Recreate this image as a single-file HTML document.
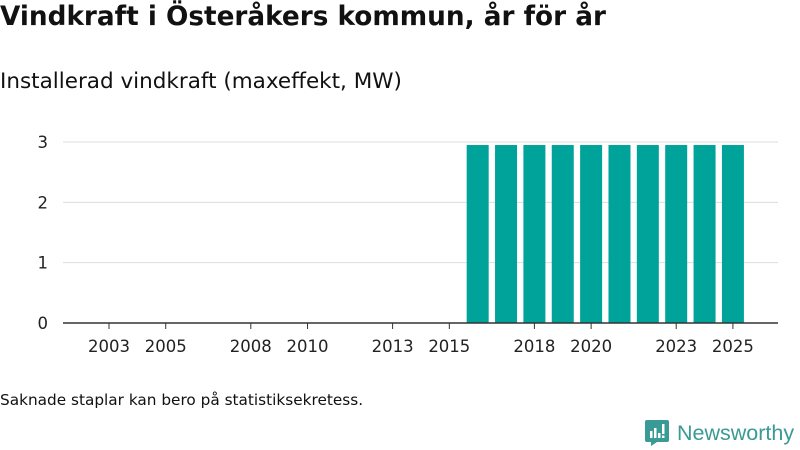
<!DOCTYPE html>
<html><head><meta charset="utf-8"><style>
body{margin:0;width:800px;height:450px;background:#fff;font-family:"DejaVu Sans","Liberation Sans",sans-serif;color:#111;overflow:hidden;position:relative}
.t{position:absolute;left:0;white-space:nowrap}
</style></head><body>
<div class="t" style="top:2px;font-size:26.3px;font-weight:bold">Vindkraft i Österåkers kommun, år för år</div>
<div class="t" style="top:69px;font-size:21.5px">Installerad vindkraft (maxeffekt, MW)</div>
<svg id="c" width="800" height="380" style="position:absolute;left:0;top:0"></svg>
<div class="t" style="top:391px;font-size:15.3px">Saknade staplar kan bero på statistiksekretess.</div>
<div style="position:absolute;left:645px;top:420px;display:flex;align-items:center">
<svg width="24" height="26" viewBox="0 0 24 26"><path d="M2 0h20a2 2 0 0 1 2 2v18a2 2 0 0 1-2 2H12l-6 4v-4H2a2 2 0 0 1-2-2V2a2 2 0 0 1 2-2z" fill="#3a9a95"/><rect x="5" y="11" width="2.5" height="7" fill="#fff"/><rect x="9" y="8" width="2.5" height="10" fill="#fff"/><rect x="13" y="13" width="2.5" height="5" fill="#fff"/><rect x="17" y="4" width="2.5" height="10" fill="#fff"/><rect x="17" y="15.5" width="2.5" height="2.5" fill="#fff"/></svg>
<span style="font-size:21.5px;color:#3a9a95;margin-left:8px;font-family:'Liberation Sans',sans-serif">Newsworthy</span></div>
<script>
const years=[2016,2017,2018,2019,2020,2021,2022,2023,2024,2025];
const values=[2.95,2.95,2.95,2.95,2.95,2.95,2.95,2.95,2.95,2.95];
const yTicks=[0,1,2,3];
const xTicks=[2003,2005,2008,2010,2013,2015,2018,2020,2023,2025];
const svg=document.getElementById('c');const NS='http://www.w3.org/2000/svg';
const x=v=>109+(v-2003)*28.36;const y=v=>323-v*60.33;
function mk(t,a){const e=document.createElementNS(NS,t);for(const k in a)e.setAttribute(k,a[k]);svg.appendChild(e);return e;}
yTicks.forEach(v=>{
 if(v>0){const g=mk('line',{x1:63,x2:778,y1:y(v),y2:y(v),stroke:'#ddd','stroke-width':1});
 
 }
 const t=mk('text',{x:48,y:y(v)+6,'text-anchor':'end','font-size':16.5,fill:'#222'});t.textContent=v;
 
 
});
years.forEach((yr,i)=>{const b=mk('rect',{x:x(yr)-11,y:y(values[i]),width:22,height:y(0)-y(values[i]),fill:'#00a39a'});
 
 });
const ax=mk('line',{x1:63,x2:778,y1:323,y2:323,stroke:'#333','stroke-width':1.5});


xTicks.forEach(v=>{mk('line',{x1:x(v),x2:x(v),y1:323,y2:329,stroke:'#333'});
 const t=mk('text',{x:x(v),y:352,'text-anchor':'middle','font-size':16.5,fill:'#222'});t.textContent=v;
 
 });
</script>
</body></html>
